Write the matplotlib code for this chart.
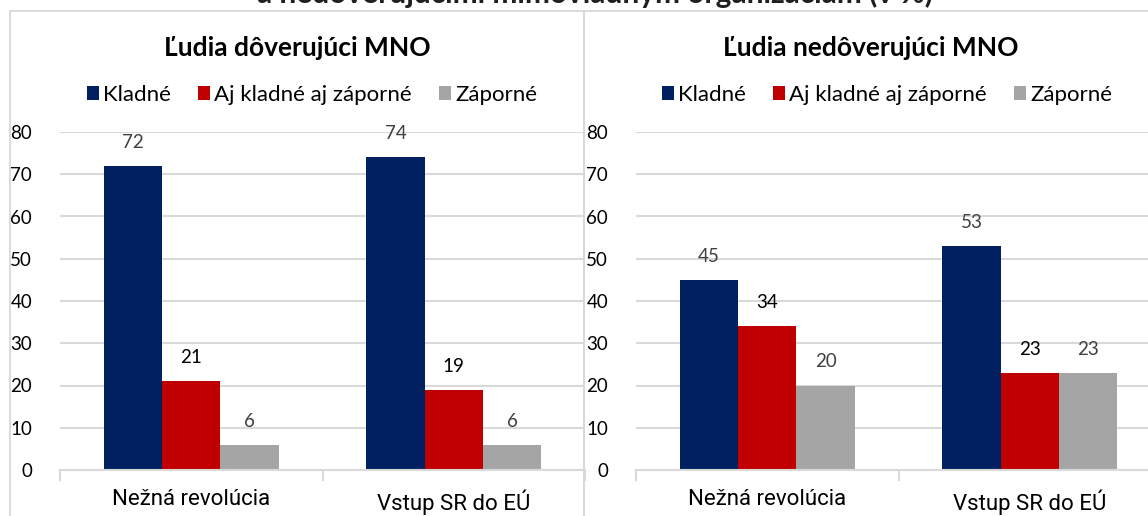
import matplotlib.pyplot as plt
from matplotlib.patches import Rectangle

# data
categories = ['Nežná revolúcia', 'Vstup SR do EÚ']
series_names = ['Kladné', 'Aj kladné aj záporné', 'Záporné']
trust = [[72, 74], [21, 19], [6, 6]]
distrust = [[45, 53], [34, 23], [20, 23]]
panel_titles = ['Ľudia dôverujúci MNO', 'Ľudia nedôverujúci MNO']
main_title = 'a nedôverujúcimi mimovládnym organizáciám (v %)'

colors = ['#002060', '#C00000', '#A5A5A5']
label_colors = ['#404040', '#000000', '#404040']
grid_col = '#D9D9D9'
calibri = ['Lato', 'DejaVu Sans']
narrow = ['Roboto', 'DejaVu Sans']

W, H = 1148, 516
fig = plt.figure(figsize=(W / 100, H / 100), dpi=100)

# panel frames
fig.patches.append(Rectangle((10 / W, -0.1), 574 / W, 1.1 - 11 / H, transform=fig.transFigure,
                             fill=False, edgecolor=grid_col, lw=1.3))
fig.patches.append(Rectangle((584 / W, -0.1), 600 / W, 1.1 - 11 / H, transform=fig.transFigure,
                             fill=False, edgecolor=grid_col, lw=1.3))

# main title is cut off at the top, as in the source image
fig.text(595 / W, 1 - 3 / H, main_title, ha='center', va='baseline', fontsize=21.5,
         fontweight='bold', color='#1F1F1F', family=calibri)

panels = [(60, trust, 297, 312), (636, distrust, 871, 887)]
bw = 1 / 4.5
for (left, data, tx, lx), title in zip(panels, panel_titles):
    ax = fig.add_axes([left / W, 46 / H, 525 / W, 338 / H])
    for i, vals in enumerate(data):
        xs = [c + (i - 1) * bw for c in range(len(categories))]
        bars = ax.bar(xs, vals, width=bw, color=colors[i], label=series_names[i], zorder=3)
        for b, v in zip(bars, vals):
            ax.annotate(str(v), (b.get_x() + bw / 2, v), xytext=(0, 17), textcoords='offset points',
                        ha='center', va='center', fontsize=13.5, color=label_colors[i], family=calibri)
    ax.set_xlim(-0.5, 1.5)
    ax.set_ylim(0, 80)
    ax.set_yticks(range(0, 81, 10))
    ax.yaxis.grid(True, color=grid_col, lw=1.5, zorder=0)
    ax.set_axisbelow(True)
    for s in ['top', 'right', 'left']:
        ax.spines[s].set_visible(False)
    ax.spines['bottom'].set_color(grid_col)
    ax.spines['bottom'].set_linewidth(1.5)
    ax.spines['bottom'].set_zorder(4)
    ax.set_xticks(range(len(categories)))
    ax.set_xticklabels(categories, fontsize=16, family=narrow, color='#000000')
    ax.set_xticks([-0.5, 0.5, 1.5], minor=True)
    ax.tick_params(axis='x', which='major', length=0, pad=14)
    ax.tick_params(axis='x', which='minor', length=8, width=1.5, color=grid_col)
    ax.tick_params(axis='y', length=0, pad=20, labelsize=13.5, labelcolor='#000000')
    for t in ax.get_yticklabels():
        t.set_family(calibri)
    fig.text(tx / W, 1 - 48 / H, title, ha='center', va='center', fontsize=19,
             fontweight='bold', color='#000000', family=calibri)
    fig.legend(*ax.get_legend_handles_labels(), loc='center', bbox_to_anchor=(lx / W, 1 - 95 / H),
               ncol=3, frameon=False, handlelength=0.55, handleheight=0.55, handletextpad=0.2,
               columnspacing=1.2, prop={'family': calibri, 'size': 16})

fig.savefig('out.png', dpi=100)
